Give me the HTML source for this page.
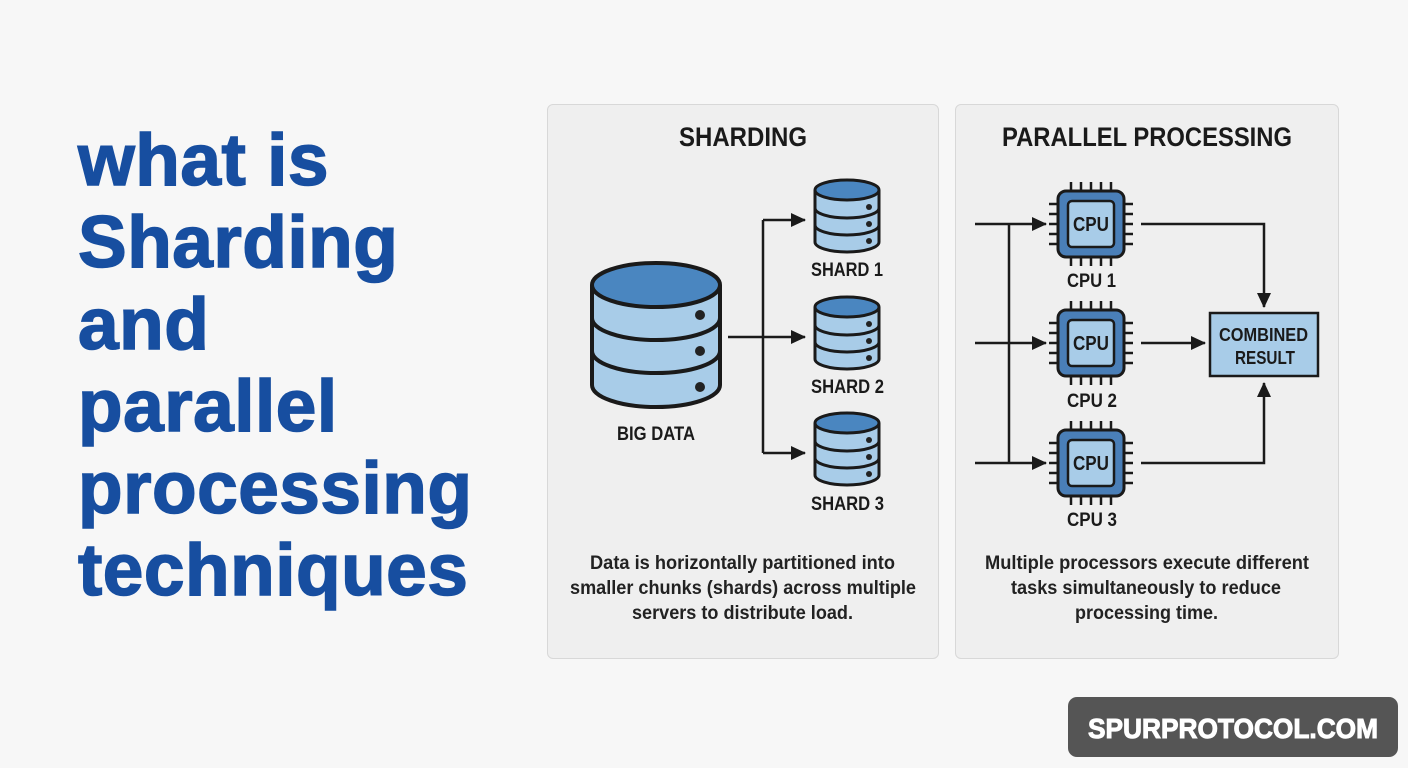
<!DOCTYPE html>
<html><head><meta charset="utf-8"><style>
html,body{margin:0;padding:0;background:#f7f7f7;}
body{width:1408px;height:768px;overflow:hidden;position:relative;font-family:"Liberation Sans",sans-serif;}
.t{position:absolute;left:78px;top:120px;color:#174ea0;font-weight:bold;font-size:73px;line-height:82px;letter-spacing:0.5px;-webkit-text-stroke:1.5px #174ea0;}
.panel{position:absolute;top:104px;height:553px;background:#efefef;border:1px solid #d8d8d8;border-radius:6px;}
svg{position:absolute;left:0;top:0;}
.badge{position:absolute;left:1068px;top:697px;width:330px;height:60px;background:#555;border-radius:9px;}
</style></head><body>
<div class="t">what is<br>Sharding<br>and<br>parallel<br>processing<br>techniques</div>
<div class="panel" style="left:547px;width:390px;"></div>
<div class="panel" style="left:955px;width:382px;"></div>
<div class="badge"></div>
<svg width="1408" height="768" viewBox="0 0 1408 768">
<defs>
<marker id="ah" markerWidth="16" markerHeight="14" refX="14" refY="7" orient="auto" markerUnits="userSpaceOnUse"><path d="M0,0 L15,7 L0,14 Z" fill="#1a1a1a"/></marker>
<g id="shard">
<path d="M-32,0 V52 A32,10 0 0 0 32,52 V0" fill="#a8cce8" stroke="#1a1a1a" stroke-width="3"/>
<path d="M-32,18 A32,10 0 0 0 32,18 M-32,35 A32,10 0 0 0 32,35" fill="none" stroke="#1a1a1a" stroke-width="3"/>
<ellipse cx="0" cy="0" rx="32" ry="10" fill="#4a86c0" stroke="#1a1a1a" stroke-width="3"/>
<circle cx="22" cy="17" r="3" fill="#222"/><circle cx="22" cy="34" r="3" fill="#222"/><circle cx="22" cy="51" r="3" fill="#222"/>
</g>
<g id="chip">
<g stroke="#1a1a1a" stroke-width="2.5">
<path d="M-20,-42V-33M-10,-42V-33M0,-42V-33M10,-42V-33M20,-42V-33M-20,33V42M-10,33V42M0,33V42M10,33V42M20,33V42M-42,-20H-33M-42,-10H-33M-42,0H-33M-42,10H-33M-42,20H-33M33,-20H42M33,-10H42M33,0H42M33,10H42M33,20H42"/>
</g>
<rect x="-33" y="-33" width="66" height="66" rx="8" fill="#4a7fb8" stroke="#1a1a1a" stroke-width="3"/>
<rect x="-23" y="-23" width="46" height="46" rx="4" fill="#a8cce8" stroke="#1a1a1a" stroke-width="2.5"/>
<text x="-18" y="7" textLength="36" lengthAdjust="spacingAndGlyphs" font-family="Liberation Sans, sans-serif" font-weight="bold" font-size="20" fill="#1a1a1a">CPU</text>
</g>
</defs>
<g font-family="Liberation Sans, sans-serif" font-weight="bold" fill="#1a1a1a" lengthAdjust="spacingAndGlyphs">
<text x="679" y="146" font-size="27" textLength="128" lengthAdjust="spacingAndGlyphs">SHARDING</text>
<text x="1002" y="146" font-size="27" textLength="290" lengthAdjust="spacingAndGlyphs">PARALLEL PROCESSING</text>
<text x="617" y="440" font-size="19" textLength="78" lengthAdjust="spacingAndGlyphs">BIG DATA</text>
<text x="811" y="276" font-size="19" textLength="72" lengthAdjust="spacingAndGlyphs">SHARD 1</text>
<text x="811" y="393" font-size="19" textLength="73" lengthAdjust="spacingAndGlyphs">SHARD 2</text>
<text x="811" y="510" font-size="19" textLength="73" lengthAdjust="spacingAndGlyphs">SHARD 3</text>
<text x="1067" y="287" font-size="19" textLength="49" lengthAdjust="spacingAndGlyphs">CPU 1</text>
<text x="1067" y="407" font-size="19" textLength="50" lengthAdjust="spacingAndGlyphs">CPU 2</text>
<text x="1067" y="526" font-size="19" textLength="50" lengthAdjust="spacingAndGlyphs">CPU 3</text>
<g font-size="19" fill="#222">
<text x="590" y="569" textLength="305" lengthAdjust="spacingAndGlyphs">Data is horizontally partitioned into</text>
<text x="570" y="594" textLength="346" lengthAdjust="spacingAndGlyphs">smaller chunks (shards) across multiple</text>
<text x="632" y="619" textLength="221" lengthAdjust="spacingAndGlyphs">servers to distribute load.</text>
<text x="985" y="569" textLength="324" lengthAdjust="spacingAndGlyphs">Multiple processors execute different</text>
<text x="1011" y="594" textLength="270" lengthAdjust="spacingAndGlyphs">tasks simultaneously to reduce</text>
<text x="1075" y="619" textLength="143" lengthAdjust="spacingAndGlyphs">processing time.</text>
</g>
</g>
<!-- big cylinder -->
<path d="M592,285 V385 A64,22 0 0 0 720,385 V285" fill="#a8cce8" stroke="#1a1a1a" stroke-width="4"/>
<path d="M592,318 A64,22 0 0 0 720,318 M592,351 A64,22 0 0 0 720,351" fill="none" stroke="#1a1a1a" stroke-width="4"/>
<ellipse cx="656" cy="285" rx="64" ry="22" fill="#4a86c0" stroke="#1a1a1a" stroke-width="4"/>
<circle cx="700" cy="315" r="5" fill="#222"/><circle cx="700" cy="351" r="5" fill="#222"/><circle cx="700" cy="387" r="5" fill="#222"/>
<use href="#shard" x="847" y="190"/>
<use href="#shard" x="847" y="307"/>
<use href="#shard" x="847" y="423"/>
<g stroke="#1a1a1a" stroke-width="2.5" fill="none">
<path d="M728,337H805" marker-end="url(#ah)"/>
<path d="M763,220V453"/>
<path d="M763,220H805" marker-end="url(#ah)"/>
<path d="M763,453H805" marker-end="url(#ah)"/>
<path d="M975,224H1046" marker-end="url(#ah)"/>
<path d="M975,343H1046" marker-end="url(#ah)"/>
<path d="M975,463H1046" marker-end="url(#ah)"/>
<path d="M1009,224V463"/>
<path d="M1141,224H1264V307" marker-end="url(#ah)"/>
<path d="M1141,343H1205" marker-end="url(#ah)"/>
<path d="M1141,463H1264V383" marker-end="url(#ah)"/>
</g>
<use href="#chip" x="1091" y="224"/>
<use href="#chip" x="1091" y="343"/>
<use href="#chip" x="1091" y="463"/>
<rect x="1210" y="313" width="108" height="63" fill="#a8cce8" stroke="#1a1a1a" stroke-width="2.5"/>
<text x="1219" y="341" font-size="18" textLength="89" lengthAdjust="spacingAndGlyphs" font-family="Liberation Sans, sans-serif" font-weight="bold" fill="#1a1a1a">COMBINED</text>
<text x="1235" y="364" font-size="18" textLength="60" lengthAdjust="spacingAndGlyphs" font-family="Liberation Sans, sans-serif" font-weight="bold" fill="#1a1a1a">RESULT</text>
<text x="1088" y="738" font-size="28" textLength="290" lengthAdjust="spacingAndGlyphs" font-family="Liberation Sans, sans-serif" font-weight="bold" fill="#fff" stroke="#fff" stroke-width="1">SPURPROTOCOL.COM</text>
</svg>
</body></html>
